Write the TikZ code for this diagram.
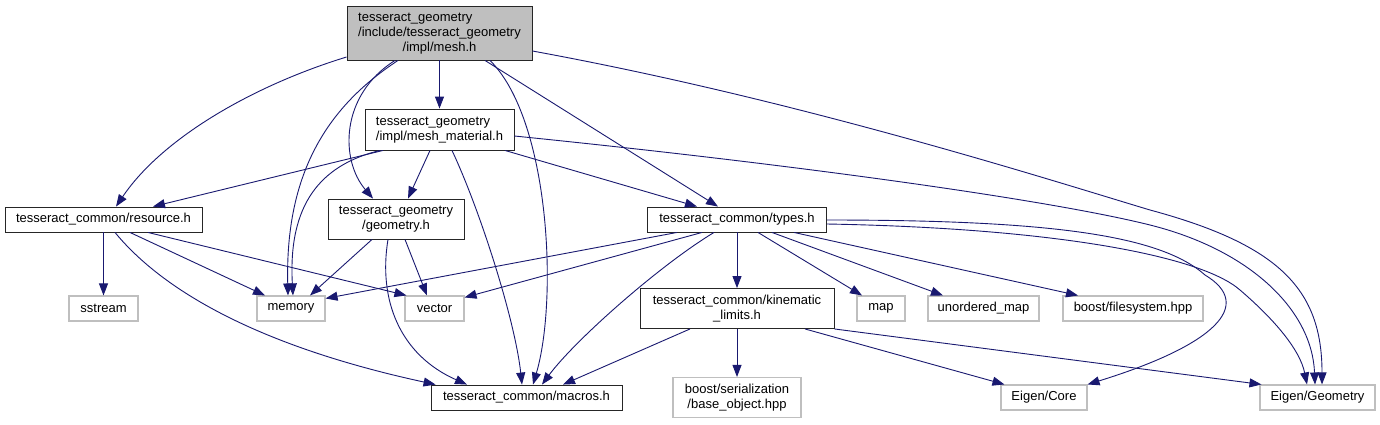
\documentclass[tikz,border=0pt]{standalone}
\usepackage{fontspec}
\setmainfont{Liberation Sans}
\usetikzlibrary{arrows.meta}
\definecolor{edgeblue}{RGB}{25,25,112}
\definecolor{extgray}{RGB}{191,191,191}
\newcommand{\twoline}[2]{\begin{tabular}{@{}l@{}}#1\\\multicolumn{1}{@{}c@{}}{#2}\end{tabular}}

\begin{document}
\begin{tikzpicture}[x=1pt,y=-1pt,font=\fontsize{13}{15}\selectfont,
  hfile/.style={draw=black!85,line width=0.9pt,inner sep=0pt,fill=white,minimum height=25pt},
  extfile/.style={draw=extgray,line width=1.1pt,inner sep=0pt,fill=white,minimum height=25pt},
  dep/.style={draw=edgeblue,line width=0.9pt,-{Triangle[length=12pt,width=9pt]}}]
\useasboundingbox[fill=white] (0,0) rectangle (1380,424);

\node[hfile,fill=extgray,minimum width=185pt,minimum height=54pt] (mesh) at (439.5,33)
  {\begin{tabular}{@{}l@{}}tesseract\_geometry\\/include/tesseract\_geometry\\\multicolumn{1}{@{}c@{}}{/impl/mesh.h}\end{tabular}};
\node[hfile,minimum width=149pt,minimum height=41pt] (mat) at (439.5,129.5)
  {\twoline{tesseract\_geometry}{/impl/mesh\_material.h}};
\node[hfile,minimum width=197pt] (resource) at (103.5,219.5) {tesseract\_common/resource.h};
\node[hfile,minimum width=136pt,minimum height=40pt] (geometry) at (396,219)
  {\twoline{tesseract\_geometry}{/geometry.h}};
\node[hfile,minimum width=179pt] (types) at (737,219.5) {tesseract\_common/types.h};
\node[extfile,minimum width=69pt] (sstream) at (103.5,308.5) {sstream};
\node[extfile,minimum width=68pt] (memory) at (291,308.5) {memory};
\node[extfile,minimum width=59pt] (vector) at (434.5,308.5) {vector};
\node[hfile,minimum width=194pt,minimum height=40pt] (kinematic) at (737,308.5)
  {\twoline{tesseract\_common/kinematic}{\_limits.h}};
\node[extfile,minimum width=48pt] (map) at (881,308.5) {map};
\node[extfile,minimum width=111pt] (unordered) at (983.5,308.5) {unordered\_map};
\node[extfile,minimum width=140pt] (filesystem) at (1133,308.5) {boost/filesystem.hpp};
\node[hfile,minimum width=191pt] (macros) at (526.5,397.5) {tesseract\_common/macros.h};
\node[extfile,minimum width=128pt,minimum height=40pt] (serialization) at (737,397.5)
  {\twoline{boost/serialization}{/base\_object.hpp}};
\node[extfile,minimum width=86pt] (eigencore) at (1044,397.5) {Eigen/Core};
\node[extfile,minimum width=115pt] (eigengeom) at (1317.5,397.5) {Eigen/Geometry};

\draw[dep] ([yshift=-24pt]mesh.west) .. controls (255,85) and (163,137) .. ([xshift=12.5pt]resource.north);
\draw[dep] ([xshift=-41.5pt]mesh.south) .. controls (330,105) and (285,170) .. ([xshift=-3pt]memory.north);
\draw[dep] ([xshift=-44.5pt]mesh.south) .. controls (340,95) and (340,160) .. ([xshift=-23pt]geometry.north);
\draw[dep] (mesh) -- (mat);
\draw[dep] ([xshift=50.5pt]mesh.south) .. controls (550,120) and (558,300) .. ([xshift=6.5pt]macros.north);
\draw[dep] ([xshift=45.5pt]mesh.south) -- ([xshift=-19pt]types.north);
\draw[dep] ([yshift=-18pt]mesh.east) .. controls (800,100) and (1050,180) .. (1150,210)
  .. controls (1280,245) and (1322,290) .. ([xshift=4.5pt]eigengeom.north);

\draw[dep] ([xshift=-56.5pt]mat.south) -- ([xshift=49.5pt]resource.north);
\draw[dep] ([xshift=-59.5pt]mat.south) .. controls (320,165) and (288,205) .. ([xshift=2pt]memory.north);
\draw[dep] ([xshift=-9.5pt]mat.south) -- ([xshift=12pt]geometry.north);
\draw[dep] ([xshift=12.5pt]mat.south) .. controls (480,210) and (515,320) .. ([xshift=-4.5pt]macros.north);
\draw[dep] ([xshift=65.5pt]mat.south) -- ([xshift=-40pt]types.north);
\draw[dep] ([yshift=-6.5pt]mat.east) .. controls (800,165) and (1050,200) .. (1150,225)
  .. controls (1250,250) and (1312,310) .. ([xshift=-2.5pt]eigengeom.north);

\draw[dep] (resource) -- (sstream);
\draw[dep] ([xshift=26.5pt]resource.south) -- ([xshift=-26pt]memory.north);
\draw[dep] ([xshift=44.5pt]resource.south) -- ([xshift=2pt]vector.north west);
\draw[dep] ([xshift=11.5pt]resource.south) .. controls (150,275) and (230,340) .. ([xshift=5pt]macros.north west);

\draw[dep] ([xshift=-24pt]geometry.south) -- ([xshift=19pt]memory.north);
\draw[dep] ([xshift=9pt]geometry.south) -- ([xshift=-7.5pt]vector.north);
\draw[dep] ([xshift=-8pt]geometry.south) .. controls (378,300) and (400,355) .. ([xshift=-59.5pt]macros.north);

\draw[dep] ([xshift=-60pt]types.south) -- ([yshift=-3pt]memory.north east);
\draw[dep] ([xshift=-35pt]types.south) -- ([yshift=-2pt]vector.north east);
\draw[dep] ([xshift=-23pt]types.south) .. controls (660,265) and (575,340) .. ([xshift=15.5pt]macros.north);
\draw[dep] (types) -- (kinematic);
\draw[dep] ([xshift=21pt]types.south) -- ([xshift=-19pt]map.north);
\draw[dep] ([xshift=35pt]types.south) -- ([xshift=-40.5pt]unordered.north);
\draw[dep] ([xshift=57pt]types.south) -- ([xshift=-55pt]filesystem.north);
\draw[dep] ([yshift=-0.5pt]types.east) .. controls (1050,220) and (1160,235) .. (1205,275)
  .. controls (1255,305) and (1215,345) .. (eigencore.north east);
\draw[dep] ([yshift=-4.5pt]types.east) .. controls (1050,228) and (1200,255) .. (1240,290)
  .. controls (1275,320) and (1300,350) .. ([xshift=-10.5pt]eigengeom.north);

\draw[dep] ([xshift=-47pt]kinematic.south) -- ([xshift=36.5pt]macros.north);
\draw[dep] (kinematic) -- (serialization);
\draw[dep] ([xshift=68pt]kinematic.south) -- ([xshift=4pt]eigencore.north west);
\draw[dep] (kinematic.south east) -- ([xshift=2pt]eigengeom.north west);

\end{tikzpicture}
\end{document}
